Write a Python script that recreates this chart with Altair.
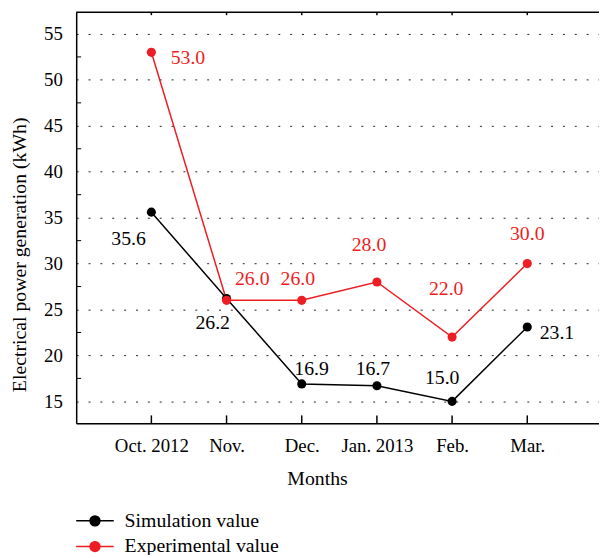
import json
import altair as alt
import pandas as pd

# ---- data ----
months = ["Oct. 2012", "Nov.", "Dec.", "Jan. 2013", "Feb.", "Mar."]
simulation = [35.6, 26.2, 16.9, 16.7, 15.0, 23.1]
experimental = [53.0, 26.0, 26.0, 28.0, 22.0, 30.0]
series_names = ["Simulation value", "Experimental value"]
series_colors = ["#000000", "#EE1D23"]
y_ticks = [15, 20, 25, 30, 35, 40, 45, 50, 55]
y_minor_ticks = [17.5, 22.5, 27.5, 32.5, 37.5, 42.5, 47.5, 52.5]

# ---- layout (not data) ----
W, H = 529, 416
FONT = "Liberation Serif"
label_offsets = {
    "Simulation value": [(-23, 27), (-14, 25), (10, -15), (-4, -17), (-10, -24), (30, 6)],
    "Experimental value": [(37, 6), (26, -22), (-4, -22), (-8, -37), (-6, -49), (0, -30)],
}

idx = list(range(1, len(months) + 1))
rows = []
for name, vals in zip(series_names, [simulation, experimental]):
    for i, m, v in zip(idx, months, vals):
        rows.append({"idx": i, "month": m, "series": name, "value": v})
df = pd.DataFrame(rows)
month_df = pd.DataFrame({"idx": idx, "month": months})
minor_df = pd.DataFrame({"value": y_minor_ticks})
one = pd.DataFrame({"a": [0]})

label_expr = json.dumps(months) + "[datum.value - 1]"

X = alt.X(
    "idx:Q",
    scale=alt.Scale(domain=[0, 6.954], nice=False, zero=False),
    axis=alt.Axis(
        values=idx, labelExpr=label_expr, title="Months", ticks=False, grid=False,
        domainColor="#000", domainWidth=1.5,
        labelFont=FONT, labelFontSize=19, labelColor="#000",
        labelBaseline="alphabetic", labelPadding=29, labelFlush=False,
        titleFont=FONT, titleFontSize=20, titleFontWeight="normal", titleColor="#000",
        titleX=243.7, titleY=62, titleBaseline="alphabetic", titleAlign="center",
    ),
)
Y = alt.Y(
    "value:Q",
    scale=alt.Scale(domain=[12.61, 57.37], nice=False, zero=False),
    axis=alt.Axis(
        values=y_ticks, ticks=False, grid=True, gridDash=[2, 10], gridColor="#222",
        gridWidth=1, domainColor="#000", domainWidth=1.5,
        labelFont=FONT, labelFontSize=19, labelColor="#000", labelPadding=14,
        title="Electrical power generation (kWh)",
        titleFont=FONT, titleFontSize=20, titleFontWeight="normal", titleColor="#000",
        titleX=-51, titleY=245, titleBaseline="alphabetic", titleAlign="center", titleAngle=270,
    ),
)

legend_path = (
    "M-1.9,0L1.9,0"
    "M-0.5,0A0.5,0.5,0,1,1,0.5,0A0.5,0.5,0,1,1,-0.5,0Z"
)
legend = alt.Legend(
    orient="none", legendX=8, legendY=503.7, title=None,
    symbolType=legend_path, symbolSize=400, symbolStrokeWidth=1.5,
    labelFont=FONT, labelFontSize=20, labelColor="#000", labelOffset=19,
    rowPadding=5, padding=0,
)
C = alt.Color("series:N", scale=alt.Scale(domain=series_names, range=series_colors), legend=legend)

lines = alt.Chart(df).mark_line(strokeWidth=1.5).encode(x=X, y=Y, color=C, detail="series:N")
points = alt.Chart(df).mark_circle(size=85, opacity=1).encode(x=X, y=Y, color=C)

layers = [lines, points]

for name, col in zip(series_names, series_colors):
    for k, (dx, dy) in enumerate(label_offsets[name]):
        t = (
            alt.Chart(df)
            .transform_filter((alt.datum.series == name) & (alt.datum.idx == idx[k]))
            .mark_text(font=FONT, fontSize=20, color=col, dx=dx, dy=dy, align="center", baseline="middle")
            .encode(x=X, y=Y, text=alt.Text("value:Q", format=".1f"))
        )
        layers.append(t)

minor = alt.Chart(minor_df).mark_rule(color="#000", strokeWidth=1).encode(
    y=Y, x=alt.value(0), x2=alt.value(5)
)
bottom_ticks = alt.Chart(month_df).mark_rule(color="#000", strokeWidth=1.5).encode(
    x=X, y=alt.value(H - 8), y2=alt.value(H)
)
top_ticks = alt.Chart(month_df).mark_rule(color="#000", strokeWidth=1.5).encode(
    x=X, y=alt.value(0), y2=alt.value(3)
)
top_line = alt.Chart(one).mark_rule(color="#000", strokeWidth=1.5).encode(
    x=alt.value(0), x2=alt.value(W), y=alt.value(0)
)
layers += [minor, bottom_ticks, top_ticks, top_line]

chart = (
    alt.layer(*layers)
    .properties(
        width=W, height=H,
        autosize=alt.AutoSizeParams(type="none"),
        padding={"left": 69, "top": 1, "right": 0, "bottom": 130},
        background="white",
    )
    .configure_view(stroke=None)
    .configure_text(font=FONT)
    .configure(font=FONT)
)

chart.save("out.html", embed_options={"renderer": "svg", "actions": False})
